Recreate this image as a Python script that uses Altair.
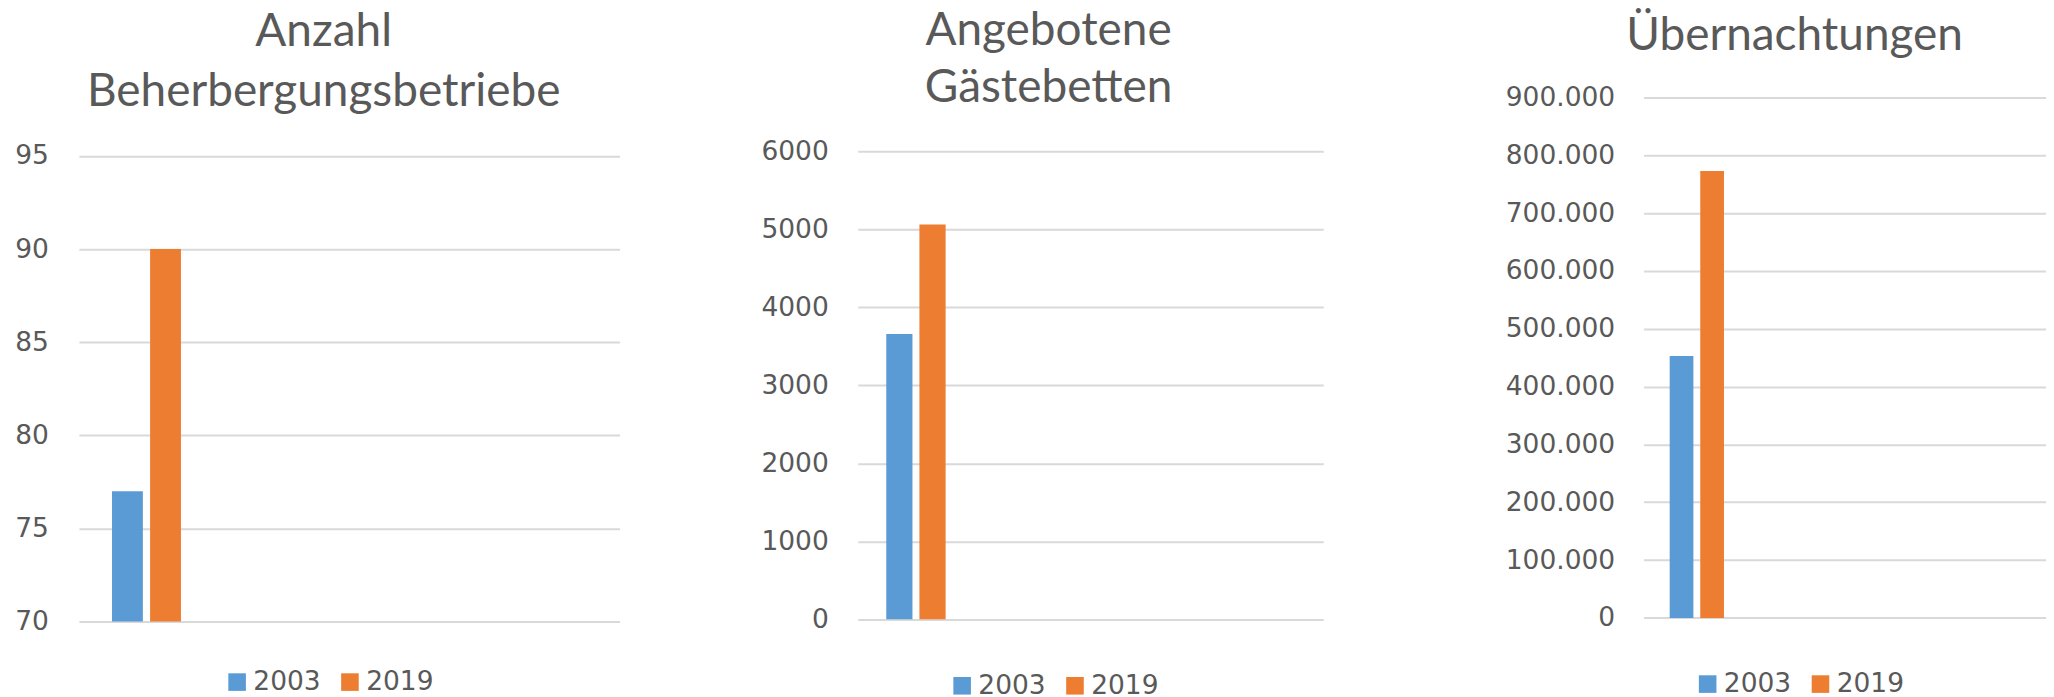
import altair as alt
import pandas as pd

# ---- data ----
years = ["2003", "2019"]
betriebe = [77, 90]                 # Anzahl Beherbergungsbetriebe
betten = [3660, 5065]               # Angebotene Gästebetten
uebernachtungen = [452700, 772600]  # Übernachtungen
slots = ["K1", "K2", "K3", "K4"]    # Excel category slots, only the first one holds data

ticks_betriebe = [70, 75, 80, 85, 90, 95]
ticks_betten = [0, 1000, 2000, 3000, 4000, 5000, 6000]
ticks_uebern = [0, 100000, 200000, 300000, 400000, 500000, 600000, 700000, 800000, 900000]

titles = [["Anzahl", "Beherbergungsbetriebe"], ["Angebotene", "Gästebetten"], ["Übernachtungen"]]
colors = ["#5B9BD5", "#ED7D31"]

TITLE_FONT = "Lato"
LABEL_FONT = "DejaVu Sans"
GRAY = "#595959"
GRID = "#D9D9D9"
H = 525


def panel(values, title, ticks, yrange, width, xrange, extent, label_pad, off_pad,
          title_dx, title_offset, line_h, legx, legy, label_expr, base=None):
    df = pd.DataFrame({"slot": slots[0], "year": years, "value": values})
    xscale = dict(domain=slots, paddingInner=0.49, paddingOuter=0.245)
    if xrange is not None:
        xscale["range"] = xrange
    enc = dict(
        x=alt.X("slot:N", scale=alt.Scale(**xscale), axis=None),
        xOffset=alt.XOffset("year:N", scale=alt.Scale(domain=years, paddingInner=off_pad, paddingOuter=0)),
        y=alt.Y("value:Q",
                scale=alt.Scale(domain=[ticks[0], ticks[-1]], range=yrange, nice=False, zero=False),
                axis=alt.Axis(values=ticks, domain=False, ticks=False, tickSize=0, labelPadding=label_pad,
                              labelFont=LABEL_FONT, labelFontSize=26.5, labelColor=GRAY,
                              gridColor=GRID, gridWidth=2, title=None,
                              minExtent=extent, maxExtent=extent, labelExpr=label_expr)),
        color=alt.Color("year:N", scale=alt.Scale(domain=years, range=colors),
                        legend=alt.Legend(title=None, orient="none", legendX=legx, legendY=legy,
                                          direction="horizontal", symbolType="square", symbolSize=310,
                                          symbolStrokeWidth=0, labelFont=LABEL_FONT, labelFontSize=26.5,
                                          labelColor=GRAY, columnPadding=16, labelOffset=3, padding=0)),
    )
    if base is not None:
        enc["y2"] = alt.datum(base)
    return alt.Chart(df).mark_bar().encode(**enc).properties(
        width=width, height=H,
        title=alt.TitleParams(text=title, font=TITLE_FONT, fontSize=46, fontWeight="normal", color=GRAY,
                              anchor="middle", frame="group", dx=title_dx, offset=title_offset,
                              lineHeight=line_h, baseline="alphabetic"),
    )


p1 = panel(betriebe, titles[0], ticks_betriebe, [524.9, 58.7], 541.5, None, 70.1, 30.5, 0.19,
           -25.6, -54.8, 60, 145.2, 572.2, "format(datum.value, 'd')", base=70)
p2 = panel(betten, titles[1], ticks_betten, [522.7, 54.2], 466.2, None, 217.4, 29.5, 0.21,
           -42, -51, 57, 91.3, 575.9, "format(datum.value, 'd')")
p3 = panel(uebernachtungen, titles[2], ticks_uebern, [521.3, 0], 402.5, [0, 426.5], 299.9, 29, 0.225,
           -50.1, -12, 60, 50.9, 574.2, "replace(format(datum.value, ','), ',', '.')")

chart = alt.hconcat(p1, p2, p3, spacing=20).resolve_scale(
    x="independent", y="independent", color="independent", xOffset="independent"
).resolve_legend(color="independent").properties(padding=0).configure_view(stroke=None)

chart.save("out.html", embed_options={"renderer": "svg", "actions": False})
